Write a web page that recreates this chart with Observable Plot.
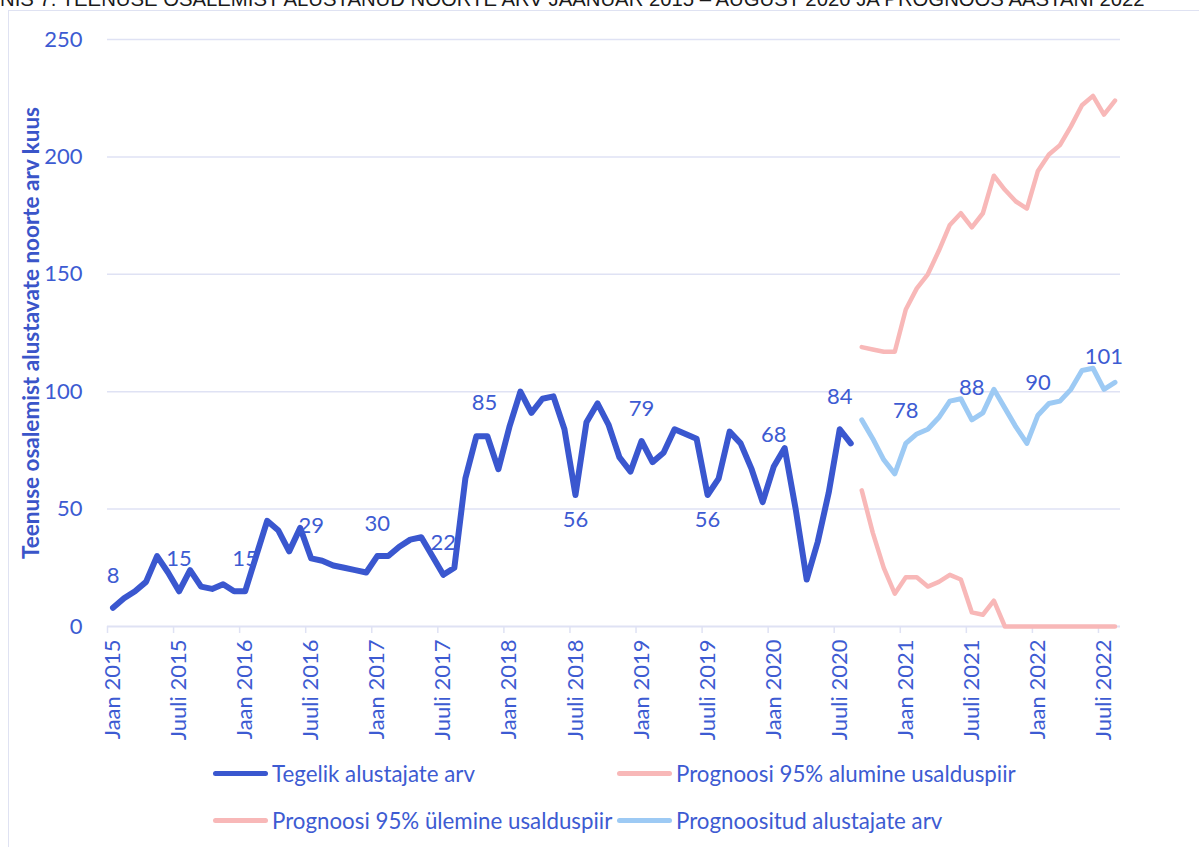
<!DOCTYPE html>
<html>
<head>
<meta charset="utf-8">
<script src="https://cdn.jsdelivr.net/npm/d3@7"></script>
<script src="https://cdn.jsdelivr.net/npm/@observablehq/plot@0.6"></script>
<style>
  body { margin: 0; background: #fff; font-family: Lato, sans-serif; }
  #wrap { position: relative; width: 1199px; height: 847px; overflow: hidden; }
  #title { position: absolute; left: -40px; top: -9px; font-family: "Liberation Sans", Arial, sans-serif; font-size: 19px; line-height: 19px; white-space: nowrap; color: #1a1a1a; }
  #frame { position: absolute; left: 8px; top: 10px; width: 1400px; height: 1000px; border: 1.5px solid #dfe2f2; box-sizing: border-box; }
  #chart { position: absolute; left: 0; top: 0; }
  #ytitle { position: absolute; left: 30px; top: 333px; transform: translate(-50%, -50%) rotate(-90deg); white-space: nowrap; font-weight: 700; font-size: 22.5px; color: #3a55c9; }
  .leg { position: absolute; display: flex; align-items: center; height: 30px; font-size: 22.3px; color: #3d5bd2; white-space: nowrap; }
  .sw { width: 55px; height: 5px; border-radius: 3px; margin-right: 4px; }
</style>
</head>
<body>
<div id="wrap">
  <div id="frame"></div>
  <div id="title"><span id="tpre">JOO</span><span id="trest">NIS 7. TEENUSE OSALEMIST ALUSTANUD NOORTE ARV JAANUAR 2015 – AUGUST 2020 JA PROGNOOS AASTANI 2022</span></div>
  <div id="chart"></div>
  <div id="ytitle">Teenuse osalemist alustavate noorte arv kuus</div>
  <div id="legend"></div>
</div>
<script>
// ---- data ----
const tickLabels = ["Jaan 2015","Juuli 2015","Jaan 2016","Juuli 2016","Jaan 2017","Juuli 2017","Jaan 2018","Juuli 2018","Jaan 2019","Juuli 2019","Jaan 2020","Juuli 2020","Jaan 2021","Juuli 2021","Jaan 2022","Juuli 2022"];
const tickMonths = [0,6,12,18,24,30,36,42,48,54,60,66,72,78,84,90];
const actual = [8,12,15,19,30,23,15,24,17,16,18,15,15,30,45,41,32,42,29,28,26,25,24,23,30,30,34,37,38,30,22,25,63,81,81,67,85,100,91,97,98,84,56,87,95,86,72,66,79,70,74,84,82,80,56,63,83,78,67,53,68,76,50,20,36,57,84,78];
const forecastStart = 68;
const forecast = [88,80,71,65,78,82,84,89,96,97,88,91,101,93,85,78,90,95,96,101,109,110,101,104];
const lower = [58,40,25,14,21,21,17,19,22,20,6,5,11,0,0,0,0,0,0,0,0,0,0,0];
const upper = [119,118,117,117,135,144,150,160,171,176,170,176,192,186,181,178,194,201,205,213,222,226,218,224];
const seriesNames = ["Tegelik alustajate arv","Prognoosi 95% alumine usalduspiir","Prognoosi 95% ülemine usalduspiir","Prognoositud alustajate arv"];
const actualLabelMonths = [0,6,12,18,24,30,36,42,48,54,60,66];
const belowLabelMonths = [42,54];
const shiftedLabelMonths = [36];
const forecastLabelMonths = [72,78,84,90];

// ---- colours ----
const blue = "#3a57cf", pink = "#f8b8b8", light = "#9dcaf4", txt = "#3d5bd2", grid = "#dfe2f4";

const actRows = actual.map((v, i) => ({m: i, v}));
const fcRows = forecast.map((v, i) => ({m: forecastStart + i, v}));
const loRows = lower.map((v, i) => ({m: forecastStart + i, v}));
const upRows = upper.map((v, i) => ({m: forecastStart + i, v}));
const lab = (m) => ({m, v: m < forecastStart ? actual[m] : forecast[m - forecastStart]});
const aboveLabels = actualLabelMonths.filter(m => !belowLabelMonths.includes(m) && !shiftedLabelMonths.includes(m)).map(lab).concat(forecastLabelMonths.map(lab));
const belowLabels = belowLabelMonths.map(lab);
const shiftedLabels = shiftedLabelMonths.map(lab);

const lineOpts = (color, w) => ({x: "m", y: "v", stroke: color, strokeWidth: w, strokeLinecap: "round", strokeLinejoin: "round"});
const textOpts = (dx, dy) => ({x: "m", y: "v", text: d => String(d.v), dx, dy, fontSize: 22, fill: txt});

const chart = Plot.plot({
  width: 1199,
  height: 750,
  marginLeft: 107,
  marginRight: 79,
  marginTop: 39,
  marginBottom: 124,
  x: {domain: [-0.5, 91.5], label: null},
  y: {domain: [0, 250], label: null},
  style: {fontFamily: "Lato, sans-serif", background: "transparent", overflow: "visible"},
  marks: [
    Plot.ruleY([50, 100, 150, 200, 250], {stroke: grid, strokeWidth: 1.5}),
    Plot.ruleY([0], {stroke: grid, strokeWidth: 2}),
    Plot.axisY({ticks: [0, 50, 100, 150, 200, 250], tickSize: 0, tickPadding: 25, fontSize: 22, color: txt, label: null}),
    Plot.axisX({ticks: tickMonths.map(d => d - 0.5), tickSize: 7, tickFormat: () => "", stroke: grid, strokeWidth: 1.5, label: null}),
    Plot.axisX({ticks: tickMonths, tickSize: 0, tickRotate: -90, tickPadding: 13, tickFormat: (d, i) => tickLabels[i], fontSize: 22, fill: txt, label: null}),
    Plot.line(loRows, lineOpts(pink, 4.5)),
    Plot.line(upRows, lineOpts(pink, 4.5)),
    Plot.line(fcRows, lineOpts(light, 5)),
    Plot.line(actRows, lineOpts(blue, 6)),
    Plot.text(aboveLabels, textOpts(0, -32)),
    Plot.text(belowLabels, textOpts(0, 25)),
    Plot.text(shiftedLabels, textOpts(-25, -24))
  ]
});
document.getElementById("chart").appendChild(chart);

// ---- legend ----
const legendItems = [
  {name: seriesNames[0], color: blue, left: 213, top: 758},
  {name: seriesNames[1], color: pink, left: 617, top: 758},
  {name: seriesNames[2], color: pink, left: 213, top: 805},
  {name: seriesNames[3], color: light, left: 617, top: 805}
];
const legend = document.getElementById("legend");
legendItems.forEach(it => {
  const d = document.createElement("div");
  d.className = "leg";
  d.style.left = it.left + "px";
  d.style.top = it.top + "px";
  const s = document.createElement("div");
  s.className = "sw";
  s.style.background = it.color;
  const t = document.createElement("span");
  t.textContent = it.name;
  d.appendChild(s); d.appendChild(t);
  legend.appendChild(d);
});

// ---- title: clipped at the top-left as in the source ----
const title = document.getElementById("title");
const rest = document.getElementById("trest");
const targetW = 1145;
const fs = 19 * targetW / rest.getBoundingClientRect().width;
title.style.fontSize = fs + "px";
title.style.lineHeight = fs + "px";
title.style.left = (-document.getElementById("tpre").getBoundingClientRect().width) + "px";
title.style.top = (6 - 0.8465 * fs) + "px";
</script>
</body>
</html>
